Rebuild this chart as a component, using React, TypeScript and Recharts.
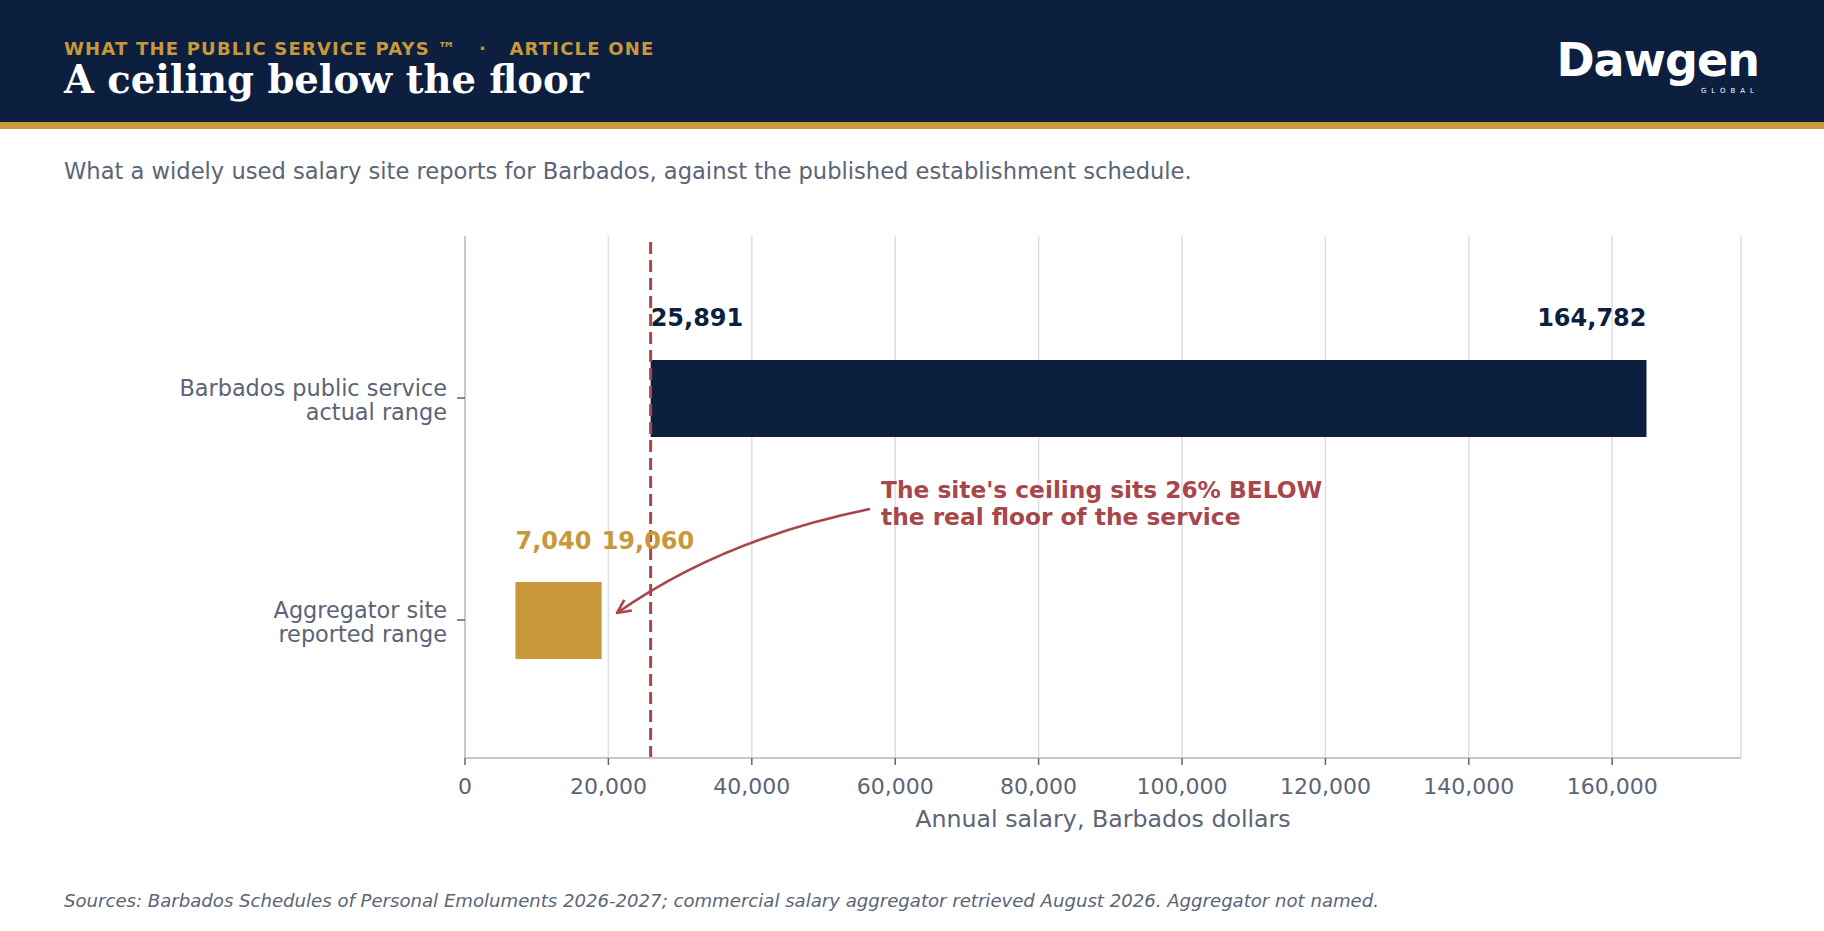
import { BarChart, Bar, Cell, XAxis, YAxis, CartesianGrid, ReferenceLine, ReferenceDot, LabelList, Label } from "recharts";

const CATEGORIES = ["Barbados public service\nactual range", "Aggregator site\nreported range"];
const RANGE_LOW = [25891, 7040];
const RANGE_HIGH = [164782, 19060];
const X_TICKS = [0, 20000, 40000, 60000, 80000, 100000, 120000, 140000, 160000];
const X_MAX = 177964;
const SERVICE_FLOOR = 25891;
const ARROW_TIP = 21200;
const NOTE_LINES = ["The site's ceiling sits 26% BELOW", "the real floor of the service"];

const NAVY = "#0c1f3f";
const GOLD = "#c9983a";
const RED = "#a8474b";
const GREY = "#5b6478";
const FONT = "'DejaVu Sans', Verdana, sans-serif";

const data = CATEGORIES.map((name, i) => ({ name, range: [RANGE_LOW[i], RANGE_HIGH[i]] }));
const fmt = (v: number) => v.toLocaleString("en-US");

function CategoryTick(props: any) {
  const { x, y, payload } = props;
  const lines = String(payload.value).split("\n");
  return (
    <text x={x} y={y} textAnchor="end" fill={GREY} fontSize={22.4} fontFamily={FONT}>
      {lines.map((l, i) => (
        <tspan key={i} x={x} y={y - 2 + i * 24}>
          {l}
        </tspan>
      ))}
    </text>
  );
}

function RangeLabel(props: any) {
  const { x, y, width, index } = props;
  const color = index === 0 ? NAVY : GOLD;
  const wide = width > 200;
  const by = y - (index === 0 ? 34.5 : 33.5);
  return (
    <g fontSize={24} fontWeight="bold" fontFamily={FONT} fill={color}>
      <text x={x} y={by}>{fmt(RANGE_LOW[index])}</text>
      <text x={x + width} y={by} textAnchor={wide ? "end" : "start"}>
        {fmt(RANGE_HIGH[index])}
      </text>
    </g>
  );
}

function ArrowNote(props: any) {
  const { cx, cy } = props;
  const tx = cx;
  const ty = cy - 7;
  const sx = tx + 253;
  const sy = ty - 104;
  const qx = tx + 105;
  const qy = ty - 74;
  // arrow head along the end tangent
  const dx = qx - tx;
  const dy = qy - ty;
  const len = Math.hypot(dx, dy);
  const ux = dx / len;
  const uy = dy / len;
  const head = (a: number) => {
    const c = Math.cos(a);
    const s = Math.sin(a);
    return [tx + 15 * (ux * c - uy * s), ty + 15 * (ux * s + uy * c)];
  };
  const [h1x, h1y] = head(0.45);
  const [h2x, h2y] = head(-0.45);
  return (
    <g>
      <path d={`M${sx},${sy} Q${qx},${qy} ${tx},${ty}`} fill="none" stroke={RED} strokeWidth={2.6} />
      <path
        d={`M${h1x},${h1y} L${tx},${ty} L${h2x},${h2y}`}
        fill="none"
        stroke={RED}
        strokeWidth={2.6}
        strokeLinejoin="round"
      />
      <text fill={RED} fontSize={23.3} fontWeight="bold" fontFamily={FONT}>
        {NOTE_LINES.map((l, i) => (
          <tspan key={i} x={tx + 264} y={ty - 115 + i * 27}>
            {l}
          </tspan>
        ))}
      </text>
    </g>
  );
}

function AxisTitle(props: any) {
  const { viewBox } = props;
  return (
    <text
      x={viewBox.x + viewBox.width / 2}
      y={viewBox.y + 69}
      textAnchor="middle"
      fill={GREY}
      fontSize={23.7}
      fontFamily={FONT}
    >
      Annual salary, Barbados dollars
    </text>
  );
}

export default function App() {
  return (
    <div style={{ position: "relative", width: 1824, height: 931, background: "#fff", fontFamily: FONT }}>
      <style>{"body{margin:0}"}</style>
      <svg width={1824} height={931} style={{ position: "absolute", left: 0, top: 0 }}>
        <rect x={0} y={0} width={1824} height={122} fill={NAVY} />
        <rect x={0} y={122} width={1824} height={7} fill={GOLD} />
        <text
          x={64}
          y={55}
          fill={GOLD}
          fontSize={18}
          fontWeight="bold"
          fontFamily={FONT}
          letterSpacing={1.2}
          style={{ whiteSpace: "pre" }}
        >
          {"WHAT THE PUBLIC SERVICE PAYS ™   ·   ARTICLE ONE"}
        </text>
        <text x={64} y={93} fill="#fff" fontSize={38.5} fontWeight="bold" fontFamily="'DejaVu Serif', serif">
          A ceiling below the floor
        </text>
        <text x={1759} y={76} textAnchor="end" fill="#fff" fontSize={46} fontWeight="bold" fontFamily={FONT} letterSpacing={-1}>
          Dawgen
        </text>
        <text x={1759} y={93} textAnchor="end" fill="#fff" fontSize={7} fontFamily={FONT} letterSpacing={5}>
          GLOBAL
        </text>
        <text x={64} y={179} fill={GREY} fontSize={22.6} fontFamily={FONT}>
          What a widely used salary site reports for Barbados, against the published establishment schedule.
        </text>
        <text x={64} y={907} fill={GREY} fontSize={18.1} fontStyle="italic" fontFamily={FONT}>
          Sources: Barbados Schedules of Personal Emoluments 2026-2027; commercial salary aggregator retrieved August 2026. Aggregator not named.
        </text>
      </svg>
      <div style={{ position: "absolute", left: 0, top: 0 }}>
        <BarChart
          width={1824}
          height={931}
          data={data}
          layout="vertical"
          margin={{ top: 236, right: 83, bottom: 93, left: 0 }}
          style={{ fontFamily: FONT }}
        >
          <CartesianGrid horizontal={false} stroke="#dcdfe6" strokeWidth={1.5} />
          <XAxis
            type="number"
            domain={[0, X_MAX]}
            ticks={X_TICKS}
            allowDataOverflow
            tickFormatter={fmt}
            height={80}
            axisLine={{ stroke: "#c5c9d6", strokeWidth: 2 }}
            tickLine={{ stroke: GREY, strokeWidth: 1.5 }}
            tickSize={7}
            tickMargin={13}
            tick={{ fill: GREY, fontSize: 22 }}
          >
            <Label content={<AxisTitle />} />
          </XAxis>
          <YAxis
            type="category"
            dataKey="name"
            width={465}
            padding={{ top: 51, bottom: 27 }}
            axisLine={{ stroke: "#c5c9d6", strokeWidth: 2 }}
            tickLine={{ stroke: GREY, strokeWidth: 1.5 }}
            tickSize={8}
            tickMargin={10}
            tick={<CategoryTick />}
          />
          <Bar dataKey="range" barSize={77} isAnimationActive={false}>
            {data.map((d, i) => (
              <Cell key={d.name} fill={i === 0 ? NAVY : GOLD} />
            ))}
            <LabelList dataKey="range" content={<RangeLabel />} />
          </Bar>
          <ReferenceLine x={SERVICE_FLOOR} stroke={RED} strokeWidth={3} strokeDasharray="12 6" />
          <ReferenceDot x={ARROW_TIP} y={CATEGORIES[1]} r={0} shape={<ArrowNote />} />
        </BarChart>
      </div>
    </div>
  );
}
